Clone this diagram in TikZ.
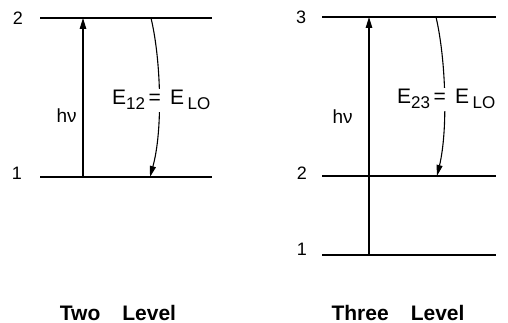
\documentclass[tikz,border=0pt]{standalone}
\usepackage{fontspec}
\setmainfont{Liberation Sans}
\usetikzlibrary{arrows.meta}
\newcommand{\lvsub}[1]{\raisebox{-5pt}{\fontsize{17}{17}\selectfont #1}}
\begin{document}
\begin{tikzpicture}[x=1pt, y=-1pt,
  level/.style={line width=2.2pt},
  pump/.style={line width=1.2pt, -{Triangle[length=11pt,width=6.5pt]}},
  relax/.style={line width=1.1pt, -{Triangle[length=11pt,width=6pt]}},
  num/.style={font=\fontsize{18}{20}\selectfont},
  elab/.style={font=\fontsize{21}{24}\selectfont, fill=white, inner sep=2pt, anchor=base west},
  title/.style={font=\fontsize{21}{24}\selectfont\bfseries, inner sep=0pt, anchor=base}]
  \useasboundingbox (0,0) rectangle (508,323);

  % two level system
  \coordinate (aw2) at (40,18);  \coordinate (ae2) at (212,18);
  \coordinate (aw1) at (40,177); \coordinate (ae1) at (212,177);
  \draw[level] (aw2) -- (ae2);
  \draw[level] (aw1) -- (ae1);
  \node[num] (an2) at (18,18) {2};
  \node[num] (an1) at (17,173) {1};

  \coordinate (apump1) at (83,177); \coordinate (apump2) at (83,18);
  \draw[pump] (apump1) -- (apump2);
  \coordinate (arel2) at (151,18); \coordinate (arel1) at (150,177);
  \draw[relax] (arel2) .. controls (161,60) and (163,130) .. (arel1);
  \node[num, anchor=base west, font=\fontsize{19}{21}\selectfont] (ahv) at (53,123) {hν};
  \node[elab] (ae) at (110,105) {E\lvsub{12}\,= \,E\,\lvsub{LO}};

  % three level system
  \coordinate (bw3) at (322,17);  \coordinate (be3) at (496,17);
  \coordinate (bw2) at (322,176); \coordinate (be2) at (496,176);
  \coordinate (bw1) at (322,255); \coordinate (be1) at (496,255);
  \draw[level] (bw3) -- (be3);
  \draw[level] (bw2) -- (be2);
  \draw[level] (bw1) -- (be1);
  \node[num] (bn3) at (301,17) {3};
  \node[num] (bn2) at (302,173) {2};
  \node[num] (bn1) at (302,249) {1};

  \coordinate (bpump1) at (369,255); \coordinate (bpump3) at (369,17);
  \draw[pump] (bpump1) -- (bpump3);
  \coordinate (brel3) at (436,17); \coordinate (brel2) at (437,176);
  \draw[relax] (brel3) .. controls (446,60) and (448,130) .. (brel2);
  \node[num, anchor=base west, font=\fontsize{19}{21}\selectfont] (bhv) at (329,124) {hν};
  \node[elab] (be) at (395,104) {E\lvsub{23}\,= \,E\,\lvsub{LO}};

  % captions
  \node[title] (atitle) at (118,320) {Two\hspace{1.05em}Level};
  \node[title] (btitle) at (398,320) {Three\hspace{1.05em}Level};
\end{tikzpicture}
\end{document}
